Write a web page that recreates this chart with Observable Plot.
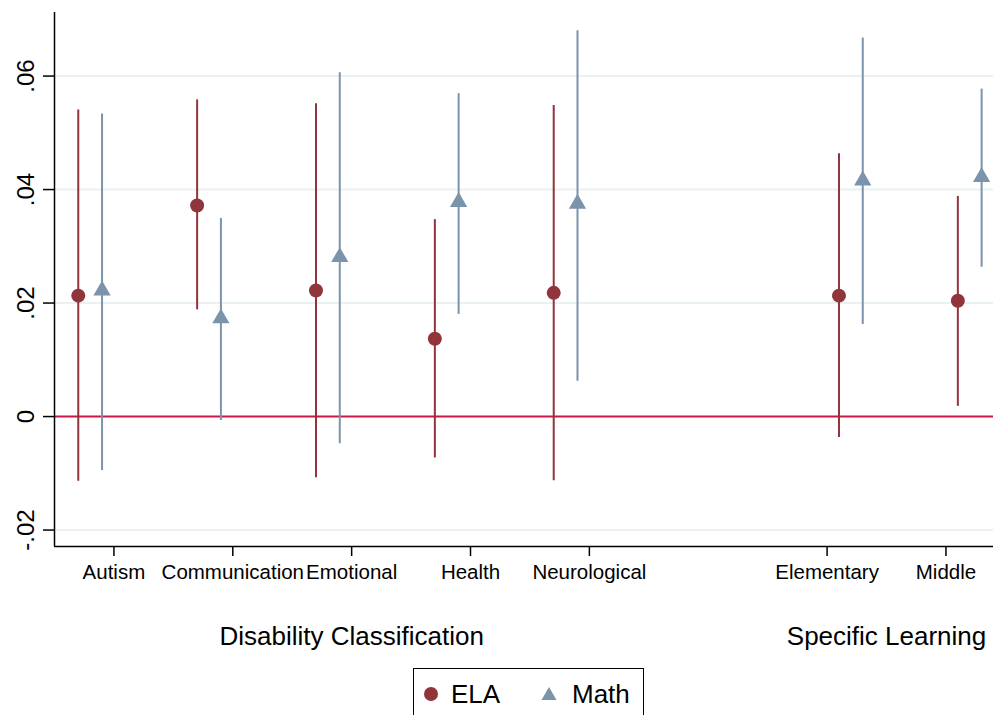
<!DOCTYPE html>
<html>
<head>
<meta charset="utf-8">
<script src="https://cdn.jsdelivr.net/npm/d3@7"></script>
<script src="https://cdn.jsdelivr.net/npm/@observablehq/plot@0.6"></script>
<style>
  html, body { margin: 0; padding: 0; background: #fff; overflow: hidden; }
  body { font-family: "Liberation Sans", Arial, Helvetica, sans-serif; width: 994px; height: 715px; position: relative; }
  #chart svg { display: block; }
  #legend { position: absolute; left: 413px; top: 668px; width: 231px; height: 70px; border: 1.5px solid #000; box-sizing: border-box; }
  #legend .item { position: absolute; top: 12px; font-size: 26px; line-height: 26px; color: #000; }
  #legend svg { position: absolute; }
</style>
</head>
<body>
<div id="chart"></div>
<div id="legend"></div>
<script>
// ---- data ----
const categories = ["Autism", "Communication", "Emotional", "Health", "Neurological", "Elementary", "Middle"];
const groups = ["Disability Classification", "Disability Classification", "Disability Classification",
                "Disability Classification", "Disability Classification", "Specific Learning", "Specific Learning"];
const seriesNames = ["ELA", "Math"];
const elaEst  = [0.0213, 0.0372, 0.0222, 0.0137, 0.0218, 0.0213, 0.0204];
const elaLow  = [-0.0114, 0.0188, -0.0108, -0.0073, -0.0113, -0.0037, 0.0018];
const elaHigh = [0.0540, 0.0558, 0.0551, 0.0347, 0.0548, 0.0463, 0.0388];
const mathEst  = [0.0222, 0.0173, 0.0281, 0.0378, 0.0375, 0.0416, 0.0422];
const mathLow  = [-0.0095, -0.0007, -0.0048, 0.0180, 0.0062, 0.0162, 0.0263];
const mathHigh = [0.0533, 0.0349, 0.0606, 0.0569, 0.0680, 0.0667, 0.0577];
const yTicks = [-0.02, 0, 0.02, 0.04, 0.06];
const yTickLabels = ["-.02", "0", ".02", ".04", ".06"];

// ---- layout helpers ----
const colors = {ELA: "#90353b", Math: "#7b93ab"};
const zeroColor = "#c9174a";
const gridColor = "#e9f1f3";
const font = '"Liberation Sans", Arial, Helvetica, sans-serif';

// category positions: consecutive, with an empty slot between groups
const positions = [];
let p = 0;
categories.forEach((c, i) => {
  if (i > 0 && groups[i] !== groups[i - 1]) p += 1;
  p += 1;
  positions.push(p);
});
const groupNames = [...new Set(groups)];
const groupCenters = groupNames.map(g => d3.mean(positions.filter((_, i) => groups[i] === g)));
const groupIndex = groups.map(g => groupNames.indexOf(g));
// series offsets within a category (per group, as in the source figure)
const offsets = [{ELA: -0.3, Math: -0.1}, {ELA: 0.1, Math: 0.3}];

const rows = [];
categories.forEach((c, i) => {
  rows.push({series: "ELA", pos: positions[i] + offsets[groupIndex[i]].ELA, est: elaEst[i], lo: elaLow[i], hi: elaHigh[i]});
  rows.push({series: "Math", pos: positions[i] + offsets[groupIndex[i]].Math, est: mathEst[i], lo: mathLow[i], hi: mathHigh[i]});
});

const xDomain = [0.5, 8.4];
const yDomain = [-0.0229, 0.0712];

const chart = Plot.plot({
  width: 994,
  height: 668,
  marginLeft: 54,
  marginRight: 1,
  marginTop: 12,
  marginBottom: 122,
  style: {fontFamily: font, color: "#000", background: "#fff", overflow: "visible"},
  x: {domain: xDomain, label: null},
  y: {domain: yDomain, label: null},
  color: {domain: seriesNames, range: seriesNames.map(s => colors[s])},
  marks: [
    Plot.gridY({ticks: yTicks.filter(d => d !== 0), stroke: gridColor, strokeOpacity: 1, strokeWidth: 2}),
    Plot.ruleY([0], {stroke: zeroColor, strokeWidth: 2}),
    Plot.ruleX(rows, {x: "pos", y1: "lo", y2: "hi", stroke: "series", strokeWidth: 2}),
    Plot.dot(rows.filter(d => d.series === "ELA"), {x: "pos", y: "est", fill: "series", symbol: "circle", r: 7, stroke: null}),
    Plot.dot(rows.filter(d => d.series === "Math"), {x: "pos", y: "est", fill: "series", symbol: "triangle", r: 6.4, stroke: null}),
    // axis lines
    Plot.ruleX([xDomain[0]], {stroke: "#000", strokeWidth: 1.5}),
    Plot.ruleY([yDomain[0]], {stroke: "#000", strokeWidth: 1.5}),
    // y axis ticks and rotated labels
    Plot.axisY({ticks: yTicks, tickSize: 11, tickFormat: () => "", label: null, stroke: "#000", strokeWidth: 1.5}),
    Plot.text(yTicks, {y: d => d, frameAnchor: "left", dx: -21, rotate: -90, text: (d, i) => yTickLabels[i],
      textAnchor: "middle", lineAnchor: "bottom", fontSize: 24, fill: "#000"}),
    // x axis category ticks
    Plot.axisX({ticks: positions, tickSize: 10, tickPadding: 8, label: null, stroke: "#000", strokeWidth: 1.5,
      tickFormat: d => categories[positions.indexOf(d)], fontSize: 20.5, fill: "#000"}),
    // group labels
    Plot.axisX({ticks: groupCenters, tickSize: 0, tickPadding: 80, label: null,
      tickFormat: d => groupNames[groupCenters.indexOf(d)], fontSize: 26, fill: "#000"})
  ]
});
document.getElementById("chart").appendChild(chart);

// ---- legend ----
const legend = document.getElementById("legend");
const legendItems = [
  {name: "ELA", symbolX: 17, textX: 37},
  {name: "Math", symbolX: 135, textX: 158}
];
legendItems.forEach(item => {
  const svg = d3.create("svg").attr("width", 20).attr("height", 20)
    .style("left", (item.symbolX - 10) + "px").style("top", "15px");
  if (item.name === "ELA") {
    svg.append("circle").attr("cx", 10).attr("cy", 10).attr("r", 7).attr("fill", colors.ELA);
  } else {
    svg.append("path").attr("d", "M10,3 L17.5,16 L2.5,16 Z").attr("fill", colors.Math);
  }
  legend.appendChild(svg.node());
  const span = document.createElement("span");
  span.className = "item";
  span.style.left = item.textX + "px";
  span.textContent = item.name;
  legend.appendChild(span);
});
</script>
</body>
</html>
